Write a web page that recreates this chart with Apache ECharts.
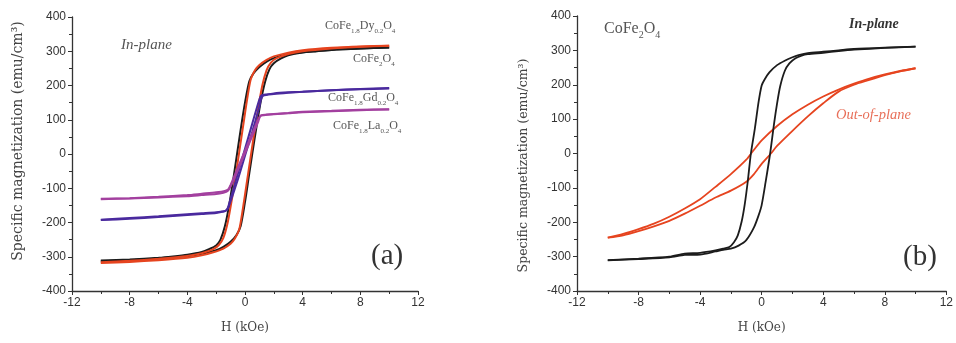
<!DOCTYPE html>
<html>
<head>
<meta charset="utf-8">
<script src="https://cdn.jsdelivr.net/npm/echarts@6/dist/echarts.min.js"></script>
<style>
  html, body { margin: 0; padding: 0; background: #fff; }
  #chart { width: 956px; height: 343px; }
</style>
</head>
<body>
<div id="chart"></div>
<script>
// (a) in-plane loops, [H kOe, M emu/cm3], descending and ascending branches
var dyDown = [[10,316],[8,314],[6,310],[4,303],[3,296],[2,285],[1.5,275],[1,260],[0.7,245],[0.4,218],[0.15,160],[-0.1,90],[-0.35,20],[-0.6,-50],[-0.9,-130],[-1.2,-200],[-1.5,-245],[-1.8,-265],[-2.2,-278],[-3,-290],[-4,-298],[-6,-306],[-8,-312],[-10,-316]]
var dyUp = [[-10,-318],[-8,-315],[-6,-310],[-4,-303],[-3,-296],[-2.2,-287],[-1.5,-276],[-1,-262],[-0.7,-247],[-0.4,-220],[-0.15,-160],[0.1,-90],[0.35,-20],[0.6,50],[0.9,130],[1.2,200],[1.5,245],[1.8,267],[2.2,280],[3,292],[4,300],[6,308],[8,313],[10,316]]
var feDown = [[10,311],[8,308],[6,304],[4,297],[3,291],[2,280],[1.5,270],[1,254],[0.6,236],[0.3,212],[0,150],[-0.25,85],[-0.5,15],[-0.8,-70],[-1.1,-150],[-1.4,-212],[-1.7,-250],[-2,-267],[-2.5,-278],[-3,-286],[-4,-294],[-5,-299],[-6,-303],[-8,-308],[-10,-311]]
var feUp = [[-10,-313],[-8,-310],[-6,-305],[-4,-298],[-3,-291],[-2,-281],[-1.5,-271],[-1,-256],[-0.6,-237],[-0.3,-210],[0,-140],[0.25,-70],[0.5,0],[0.8,80],[1.1,155],[1.4,212],[1.7,248],[2,265],[2.5,279],[3,288],[4,296],[5,300],[6,304],[8,308],[10,311]]
var gdDown = [[10,193],[8,190],[6,186],[4,182],[3,180],[2,177],[1.5,174],[1.15,171],[1.0,160],[0.5,88],[0,15],[-0.5,-58],[-1.0,-130],[-1.2,-158],[-1.35,-166],[-1.6,-168],[-2,-170],[-3,-173],[-4,-176],[-6,-182],[-8,-187],[-10,-192]]
var gdUp = [[-10,-193],[-8,-189],[-6,-184],[-4,-178],[-3,-175],[-2,-172],[-1.5,-168],[-1.25,-163],[-1.1,-150],[-0.5,-75],[0,-5],[0.5,65],[1.0,138],[1.1,158],[1.25,170],[2,175],[3,179],[4,182],[6,186],[8,189],[10,191]]
var laDown = [[10,131],[8,129],[6,126],[4,123],[3,120],[2,117],[1.5,115],[1.1,113],[0.95,104],[0.5,60],[0,10],[-0.5,-40],[-1.0,-90],[-1.15,-103],[-1.4,-108],[-2,-112],[-3,-116],[-4,-120],[-6,-125],[-8,-129],[-10,-131]]
var laUp = [[-10,-132],[-8,-130],[-6,-127],[-4,-123],[-3,-120],[-2,-117],[-1.5,-113],[-1.2,-108],[-1.0,-95],[-0.5,-48],[0,2],[0.5,52],[0.9,92],[1.05,110],[1.3,113],[2,116],[3,119],[4,122],[6,125],[8,128],[10,130]]

// (b) CoFe2O4 in-plane vs out-of-plane
var ipDown = [[10,311],[8,308],[6,304],[5,300],[4,296],[3,292],[2.4,286],[2,280],[1.5,270],[1,257],[0.5,236],[0.2,216],[0,198],[-0.2,150],[-0.45,70],[-0.7,0],[-0.9,-80],[-1.1,-148],[-1.3,-198],[-1.55,-238],[-1.8,-258],[-2.1,-272],[-2.5,-277],[-3,-282],[-4,-289],[-5,-291],[-6,-300],[-8,-306],[-10,-310]]
var ipUp = [[-10,-311],[-8,-307],[-6,-302],[-5,-295],[-4,-294],[-3,-285],[-2.5,-280],[-2,-277],[-1.5,-268],[-1,-252],[-0.5,-215],[-0.2,-180],[0,-150],[0.25,-85],[0.55,0],[0.8,85],[1,145],[1.2,195],[1.5,240],[1.8,262],[2.2,277],[2.6,285],[3,289],[4,293],[5,298],[6,302],[8,307],[10,311]]
var opDown = [[10,248],[9,240],[8,230],[7,218],[6,203],[5,186],[4,166],[3,142],[2,114],[1,80],[0,38],[-0.6,5],[-1,-18],[-2,-60],[-3,-97],[-4,-133],[-5,-160],[-6,-184],[-7,-204],[-8,-220],[-9,-234],[-10,-245]]
var opUp = [[-10,-245],[-9,-238],[-8,-226],[-7,-212],[-6,-196],[-5,-175],[-4,-152],[-3,-128],[-2,-108],[-1,-82],[-0.5,-60],[0,-30],[0.6,0],[1,22],[2,66],[3,108],[4,146],[5,180],[6,200],[7,214],[8,228],[9,239],[10,248]]

var BLACK = '#1c1c1c'
var RED = '#e6441f'
var BLUE = '#4a2a9e'
var PURPLE = '#a3409f'

var chart = echarts.init(document.getElementById('chart'), null, { renderer: 'canvas' })

function xAxisOf(grid) {
  return {
    type: 'value', gridIndex: grid, min: -12, max: 12, interval: 4,
    name: 'H (kOe)', nameLocation: 'middle', nameGap: 31,
    nameTextStyle: { fontFamily: 'DejaVu Serif', fontSize: 12, color: '#444' },
    axisLine: { onZero: false, lineStyle: { color: '#333', width: 1.3 } },
    axisTick: { inside: false, length: 4, lineStyle: { color: '#333' } },
    minorTick: { show: true, splitNumber: 2, length: 3, lineStyle: { color: '#333' } },
    axisLabel: { fontFamily: 'Liberation Sans', fontSize: 12, color: '#333', margin: 6 },
    splitLine: { show: false }
  }
}
// the two panels place their y titles a little differently (shift along the axis)
function yAxisOf(grid, size, pad) {
  return {
    type: 'value', gridIndex: grid, min: -400, max: 400, interval: 100,
    name: 'Specific magnetization (emu/cm³)', nameLocation: 'middle', nameGap: 47,
    nameTextStyle: { fontFamily: 'DejaVu Serif', fontSize: size, color: '#444', padding: pad },
    axisLine: { show: true, onZero: false, lineStyle: { color: '#333', width: 1.3 } },
    axisTick: { show: true, inside: false, length: 4, lineStyle: { color: '#333' } },
    minorTick: { show: true, splitNumber: 2, length: 3, lineStyle: { color: '#333' } },
    axisLabel: { fontFamily: 'Liberation Sans', fontSize: 12, color: '#333', margin: 6 },
    splitLine: { show: false }
  }
}
function loop(data, color, grid, width) {
  return {
    type: 'line', data: data, xAxisIndex: grid, yAxisIndex: grid,
    showSymbol: false, smooth: 0.25, silent: true,
    lineStyle: { color: color, width: width || 2 }
  }
}

// chemical formula with subscripts as rich text
function formula(x, y, text, size) {
  size = size || 12
  var b = { fontSize: size, fontFamily: 'Liberation Serif', fill: '#555', lineHeight: size + 6, verticalAlign: 'middle' }
  var s = { fontSize: Math.round(size * 0.62), fontFamily: 'Liberation Serif', fill: '#555', lineHeight: size * 0.7, verticalAlign: 'bottom' }
  return { type: 'text', left: x, top: y, style: { text: text, rich: { b: b, s: s } } }
}

var option = {
  backgroundColor: '#fff',
  animation: false,
  grid: [
    { left: 72, top: 17, width: 346, height: 274 },
    { left: 577, top: 16, width: 373, height: 275 }
  ],
  xAxis: [xAxisOf(0), xAxisOf(1)],
  yAxis: [yAxisOf(0, 14, [0, 0, 0, 26]), yAxisOf(1, 12.5, [0, 24, 0, 0])],
  series: [
    loop(feDown, BLACK, 0), loop(feUp, BLACK, 0),
    loop(dyDown, RED, 0), loop(dyUp, RED, 0),
    loop(gdDown, BLUE, 0), loop(gdUp, BLUE, 0),
    loop(laDown, PURPLE, 0), loop(laUp, PURPLE, 0),
    loop(opDown, RED, 1, 1.8), loop(opUp, RED, 1, 1.8),
    loop(ipDown, BLACK, 1, 1.8), loop(ipUp, BLACK, 1, 1.8)
  ],
  graphic: [
    { type: 'text', left: 121, top: 38, style: { text: 'In-plane', font: 'italic 15px "Liberation Serif"', fill: '#555' } },
    formula(325, 20, '{b|CoFe}{s|1.8}{b|Dy}{s|0.2}{b|O}{s|4}'),
    formula(353, 53, '{b|CoFe}{s|2}{b|O}{s|4}'),
    formula(328, 92, '{b|CoFe}{s|1.8}{b|Gd}{s|0.2}{b|O}{s|4}'),
    formula(333, 120, '{b|CoFe}{s|1.8}{b|La}{s|0.2}{b|O}{s|4}'),
    { type: 'text', left: 371, top: 242, style: { text: '(a)', font: '29px "Liberation Serif"', fill: '#333' } },
    formula(604, 21, '{b|CoFe}{s|2}{b|O}{s|4}', 16),
    { type: 'text', left: 849, top: 17, style: { text: 'In-plane', font: 'italic bold 14px "Liberation Serif"', fill: '#333' } },
    { type: 'text', left: 836, top: 108, style: { text: 'Out-of-plane', font: 'italic 14.5px "Liberation Serif"', fill: '#e8705a' } },
    { type: 'text', left: 903, top: 243, style: { text: '(b)', font: '29px "Liberation Serif"', fill: '#333' } }
  ]
}
chart.setOption(option)
</script>
</body>
</html>
